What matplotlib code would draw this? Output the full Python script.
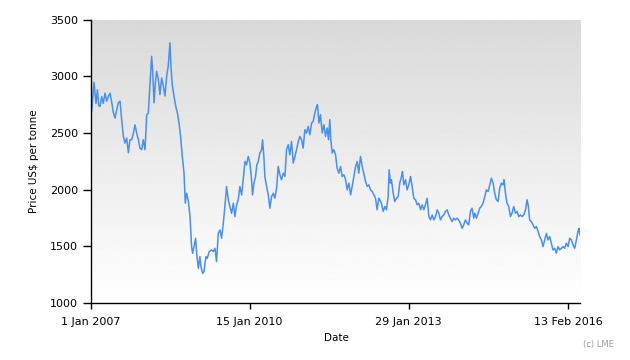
import numpy as np
import matplotlib
matplotlib.use("Agg")
from matplotlib import pyplot as plt
import matplotlib.dates as mdates

# LME price; days counted from 1 Jan 2007
days = [1, 8, 24, 38, 48, 57, 66, 78, 89, 101, 113, 124, 136, 148, 159, 171, 182, 194, 206, 217,
        229, 240, 252, 264, 275, 287, 299, 310, 322, 334, 345, 357, 368, 380, 392, 403, 415, 426, 433, 443,
        452, 461, 473, 484, 496, 508, 519, 531, 542, 554, 561, 570, 582, 594, 605, 617, 628, 640, 652, 661,
        670, 682, 694, 705, 712, 721, 733, 740, 752, 763, 770, 782, 791, 805, 814, 828, 845, 856, 868, 879,
        891, 903, 914, 926, 937, 949, 961, 972, 984, 996, 1007, 1019, 1030, 1042, 1054, 1065, 1077, 1088, 1100, 1112,
        1123, 1130, 1140, 1151, 1160, 1170, 1181, 1193, 1200, 1209, 1216, 1228, 1240, 1251, 1263, 1275, 1286, 1298, 1309, 1321,
        1332, 1344, 1356, 1367, 1379, 1390, 1402, 1414, 1425, 1437, 1449, 1460, 1472, 1483, 1495, 1507, 1518, 1530, 1542, 1553,
        1565, 1577, 1583, 1593, 1604, 1616, 1628, 1639, 1651, 1660, 1669, 1676, 1686, 1697, 1709, 1720, 1732, 1744, 1755, 1767,
        1779, 1790, 1802, 1814, 1825, 1837, 1849, 1860, 1871, 1883, 1895, 1906, 1918, 1930, 1941, 1953, 1965, 1976, 1988, 1999,
        2011, 2018, 2029, 2041, 2053, 2064, 2076, 2083, 2092, 2099, 2111, 2122, 2134, 2146, 2157, 2169, 2176, 2185, 2197, 2208,
        2220, 2232, 2243, 2255, 2267, 2278, 2290, 2302, 2313, 2325, 2336, 2348, 2360, 2371, 2383, 2394, 2406, 2418, 2429, 2441,
        2452, 2464, 2476, 2487, 2499, 2510, 2522, 2534, 2545, 2557, 2568, 2580, 2592, 2603, 2615, 2627, 2638, 2650, 2661, 2673,
        2680, 2692, 2703, 2715, 2726, 2738, 2750, 2761, 2773, 2785, 2796, 2808, 2819, 2831, 2843, 2854, 2866, 2878, 2884, 2894,
        2905, 2917, 2929, 2940, 2952, 2964, 2975, 2987, 2999, 3010, 3022, 3034, 3045, 3054, 3063, 3075, 3087, 3098, 3110, 3122,
        3133, 3145, 3156, 3168, 3180, 3191, 3203, 3214, 3226, 3238, 3249, 3261, 3272, 3284, 3296, 3307, 3319, 3331, 3342, 3354,
        3366, 3377, 3389, 3400, 3407, 3414]
price = [2850, 2690, 2946, 2760, 2880, 2740, 2734, 2820, 2760, 2850, 2780, 2820, 2850, 2770, 2680, 2631, 2700, 2766, 2780, 2620,
         2469, 2410, 2455, 2325, 2440, 2440, 2498, 2571, 2498, 2440, 2366, 2352, 2440, 2352, 2660, 2675, 2940, 3175, 3058, 2766,
         2940, 3043, 2970, 2838, 2985, 2911, 2825, 3000, 3088, 3294, 3088, 2926, 2825, 2737, 2680, 2590, 2470, 2295, 2146, 1880,
         1968, 1900, 1762, 1497, 1438, 1497, 1571, 1438, 1306, 1409, 1320, 1262, 1276, 1409, 1394, 1453, 1468, 1453, 1482, 1365,
         1615, 1644, 1571, 1703, 1850, 2027, 1909, 1850, 1791, 1880, 1762, 1865, 1909, 2027, 1953, 2087, 2248, 2219, 2292, 2233,
         2087, 1954, 2058, 2116, 2219, 2248, 2322, 2351, 2440, 2292, 2116, 2027, 1954, 1836, 1939, 1968, 1924, 2013, 2204, 2131,
         2087, 2145, 2116, 2352, 2396, 2307, 2425, 2234, 2292, 2352, 2425, 2469, 2440, 2366, 2528, 2499, 2558, 2484, 2587, 2602,
         2676, 2735, 2750, 2587, 2661, 2499, 2572, 2469, 2543, 2440, 2617, 2440, 2322, 2352, 2307, 2190, 2145, 2204, 2116, 2131,
         2087, 1998, 2057, 1954, 2028, 2116, 2204, 2248, 2145, 2293, 2204, 2145, 2072, 2028, 2042, 1998, 1983, 1954, 1924, 1822,
         1924, 1910, 1880, 1807, 1851, 1822, 1939, 2175, 2057, 2087, 1969, 1895, 1924, 1939, 2057, 2116, 2160, 2042, 2087, 1998,
         2042, 2116, 2028, 1924, 1910, 1866, 1880, 1822, 1866, 1822, 1866, 1924, 1762, 1733, 1777, 1733, 1762, 1822, 1792, 1733,
         1762, 1777, 1807, 1822, 1777, 1748, 1718, 1748, 1733, 1748, 1733, 1703, 1659, 1689, 1733, 1703, 1689, 1807, 1836, 1748,
         1792, 1748, 1792, 1837, 1851, 1881, 1939, 1998, 1983, 2042, 2101, 2057, 1969, 1910, 1895, 2013, 2057, 2042, 2087, 1969,
         1881, 1851, 1762, 1792, 1851, 1792, 1807, 1762, 1777, 1762, 1777, 1822, 1910, 1851, 1733, 1718, 1689, 1659, 1674, 1630,
         1586, 1556, 1497, 1556, 1615, 1556, 1586, 1527, 1468, 1483, 1439, 1497, 1468, 1483, 1497, 1483, 1527, 1497, 1571, 1556,
         1512, 1483, 1556, 1630, 1659, 1600]

tick_dates = ["2007-01-01", "2010-01-15", "2013-01-29", "2016-02-13"]
tick_labels = ["1 Jan 2007", "15 Jan 2010", "29 Jan 2013", "13 Feb 2016"]
y_ticks = [1000, 1500, 2000, 2500, 3000, 3500]

start = np.datetime64("2007-01-01")
dates = start + np.array(days, dtype="timedelta64[D]")

fig = plt.figure(figsize=(6.3, 3.6), dpi=100)
ax = fig.add_axes([0.1437, 0.1583, 0.7769, 0.7875])

# grey-to-white gradient behind the line
grad = np.linspace(0.85, 1.0, 256).reshape(-1, 1)
ax.imshow(grad, cmap="gray", vmin=0, vmax=1, aspect="auto",
          extent=[0, 1, 0, 1], transform=ax.transAxes, zorder=0, origin="upper")

ax.plot(dates, price, color="#4a8fe8", linewidth=1.1, zorder=2)

ax.set_xlim(start, dates[-1])
ax.set_ylim(1000, 3500)
ax.set_yticks(y_ticks)
ax.set_xticks([np.datetime64(d) for d in tick_dates])
ax.set_xticklabels(tick_labels)

for s in ["top", "right"]:
    ax.spines[s].set_visible(False)
for s in ["left", "bottom"]:
    ax.spines[s].set_linewidth(1.0)
ax.tick_params(axis="y", direction="out", length=6, width=1, labelsize=8, pad=3)
ax.tick_params(axis="x", direction="out", length=4, width=1, labelsize=8, pad=6)

fig.text(34/630, 1 - 161/360, "Price US$ per tonne", rotation=90, ha="center", va="center", fontsize=7.5)
fig.text(336/630, 1 - 338/360, "Date", ha="center", va="center", fontsize=7.5)
fig.text(598/630, 1 - 345/360, "(c) LME", ha="center", va="center", fontsize=6, color="#999999")

fig.savefig("out.png", dpi=100)
